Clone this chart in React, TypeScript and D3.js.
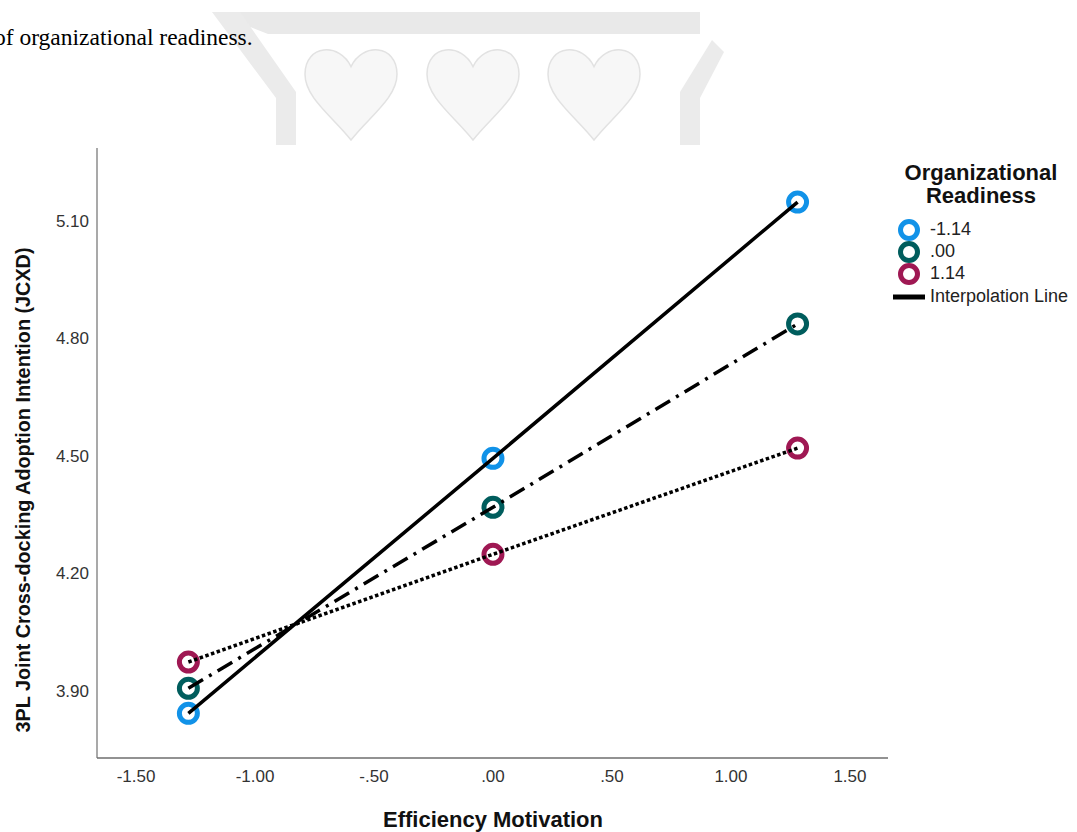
import React from "react";
import * as d3 from "d3";

const efficiencyLevels = [-1.28, 0, 1.28];
const readinessLabels = ["-1.14", ".00", "1.14"];
const seriesLow = [3.846, 4.497, 5.151];
const seriesMid = [3.91, 4.372, 4.84];
const seriesHigh = [3.977, 4.252, 4.523];
const xTicks = [-1.5, -1.0, -0.5, 0, 0.5, 1.0, 1.5];
const yTicks = [3.9, 4.2, 4.5, 4.8, 5.1];

const colors = ["#1192e8", "#005d5d", "#9f1853"];
const dashes = [null, "17,7,3,7", "3.5,2.5"];

const W = 1077;
const H = 832;

function fmt(v: number): string {
  const s = v.toFixed(2);
  if (s.startsWith("0.")) return s.slice(1);
  if (s.startsWith("-0.")) return "-" + s.slice(2);
  return s;
}

function heartPath(cx: number, top: number, w: number, h: number): string {
  const l = cx - w / 2;
  const r = cx + w / 2;
  const b = top + h;
  return `M${cx},${top + h * 0.22}
    C${cx - w * 0.12},${top - h * 0.04} ${l},${top - h * 0.02} ${l},${top + h * 0.3}
    C${l},${top + h * 0.55} ${cx - w * 0.2},${top + h * 0.75} ${cx},${b}
    C${cx + w * 0.2},${top + h * 0.75} ${r},${top + h * 0.55} ${r},${top + h * 0.3}
    C${r},${top - h * 0.02} ${cx + w * 0.12},${top - h * 0.04} ${cx},${top + h * 0.22}Z`;
}

export default function App() {
  const x = d3.scaleLinear().domain([-1.664, 1.66]).range([97, 888]);
  const y = d3.scaleLinear().domain([3.732, 5.289]).range([758, 148]);
  const series = [seriesLow, seriesMid, seriesHigh];
  const line = d3
    .line<number>()
    .x((_, i) => x(efficiencyLevels[i]))
    .y((d) => y(d));

  const sans = "'Liberation Sans', Arial, sans-serif";

  return (
    <svg
      width={W}
      height={H}
      style={{ position: "absolute", left: 0, top: 0, background: "#fff" }}
    >
      {/* page fragment above the chart */}
      <g>
        <path d="M212,12 L700,12 L700,34 L268,34 Z" fill="#e9e9e9" />
        <path d="M212,12 L240,12 L296,92 L296,145 L276,145 L276,98 Z" fill="#ebebeb" />
        <path d="M680,145 L680,92 L712,40 L724,52 L700,98 L700,145 Z" fill="#ebebeb" />
        {[351, 473, 594].map((cx) => (
          <path
            key={cx}
            d={heartPath(cx, 46, 92, 94)}
            fill="#f7f7f7"
            stroke="#e2e2e2"
            strokeWidth={1.5}
          />
        ))}
        <text
          x={-6}
          y={45}
          fontFamily="'Liberation Serif', 'Times New Roman', serif"
          fontSize={23.5}
          fill="#000"
        >
          of organizational readiness.
        </text>
      </g>

      {/* axes */}
      <line x1={97} x2={97} y1={148} y2={758} stroke="#8c8c8c" strokeWidth={1.5} />
      <line x1={97} x2={888} y1={758} y2={758} stroke="#6e6e6e" strokeWidth={1.5} />

      {yTicks.map((t) => (
        <text
          key={t}
          x={89}
          y={y(t)}
          textAnchor="end"
          dominantBaseline="middle"
          fontFamily={sans}
          fontSize={17}
          fill="#333"
        >
          {fmt(t)}
        </text>
      ))}
      {xTicks.map((t) => (
        <text
          key={t}
          x={x(t)}
          y={778}
          textAnchor="middle"
          dominantBaseline="middle"
          fontFamily={sans}
          fontSize={17}
          fill="#333"
        >
          {fmt(t)}
        </text>
      ))}

      <text
        x={493}
        y={827}
        textAnchor="middle"
        fontFamily={sans}
        fontWeight="bold"
        fontSize={22}
        fill="#111"
      >
        Efficiency Motivation
      </text>
      <text
        transform="translate(30,490) rotate(-90)"
        textAnchor="middle"
        fontFamily={sans}
        fontWeight="bold"
        fontSize={20}
        textLength={485}
        lengthAdjust="spacingAndGlyphs"
        fill="#111"
      >
        3PL Joint Cross-docking Adoption Intention (JCXD)
      </text>

      {/* markers */}
      {series.map((s, si) =>
        s.map((v, i) => (
          <circle
            key={`${si}-${i}`}
            cx={x(efficiencyLevels[i])}
            cy={y(v)}
            r={9}
            fill="#fff"
            stroke={colors[si]}
            strokeWidth={5}
          />
        ))
      )}
      {/* interpolation lines */}
      {series.map((s, si) => (
        <path
          key={si}
          d={line(s) || ""}
          fill="none"
          stroke="#000"
          strokeWidth={3.5}
          strokeDasharray={dashes[si] || undefined}
        />
      ))}

      {/* legend */}
      <text
        x={981}
        y={180}
        textAnchor="middle"
        fontFamily={sans}
        fontWeight="bold"
        fontSize={22}
        fill="#111"
      >
        Organizational
      </text>
      <text
        x={981}
        y={203}
        textAnchor="middle"
        fontFamily={sans}
        fontWeight="bold"
        fontSize={22}
        fill="#111"
      >
        Readiness
      </text>
      {readinessLabels.map((lab, i) => (
        <g key={lab}>
          <circle
            cx={909}
            cy={230 + i * 22}
            r={8.5}
            fill="#fff"
            stroke={colors[i]}
            strokeWidth={5}
          />
          <text
            x={930}
            y={230 + i * 22}
            dominantBaseline="middle"
            fontFamily={sans}
            fontSize={18}
            fill="#222"
          >
            {lab}
          </text>
        </g>
      ))}
      <line x1={893} x2={925} y1={297} y2={297} stroke="#000" strokeWidth={5} />
      <text
        x={930}
        y={297}
        dominantBaseline="middle"
        fontFamily={sans}
        fontSize={18}
        fill="#222"
      >
        Interpolation Line
      </text>
    </svg>
  );
}
